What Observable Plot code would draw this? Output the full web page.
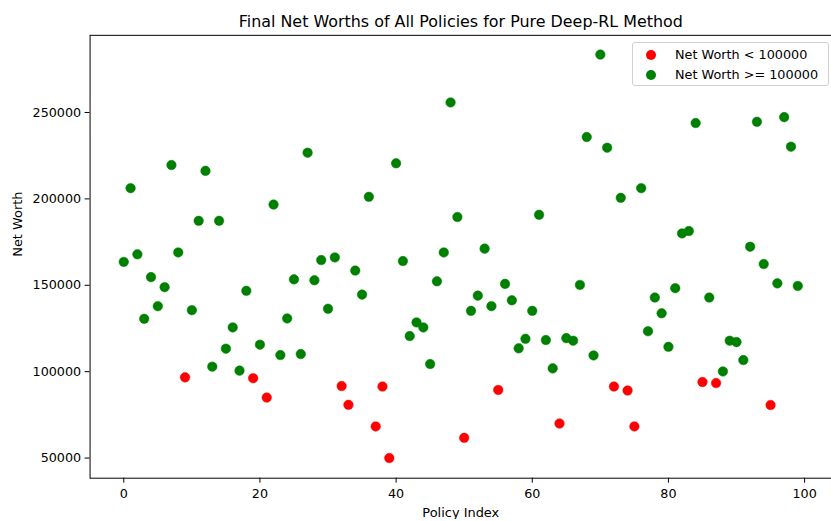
<!DOCTYPE html>
<html>
<head>
<meta charset="utf-8">
<script src="https://cdn.jsdelivr.net/npm/d3@7"></script>
<script src="https://cdn.jsdelivr.net/npm/@observablehq/plot@0.6"></script>
<style>
  html, body { margin: 0; padding: 0; background: white; overflow: hidden; }
  #wrap { position: relative; width: 831px; height: 521px; overflow: hidden; }
  #legend {
    position: absolute; left: 632px; top: 42px; width: 195px; height: 42px;
    border: 1px solid #d0d0d0; border-radius: 3px; background: rgba(255,255,255,0.8);
    font-family: "DejaVu Sans", sans-serif; font-size: 12.8px; color: #000;
  }
  .lrow { position: absolute; left: 0; height: 20px; line-height: 20px; white-space: nowrap; }
  .lmark { position: absolute; left: 13px; top: 5px; width: 10px; height: 10px; border-radius: 50%; }
  .ltext { position: absolute; left: 42px; top: 0; }
</style>
</head>
<body>
<div id="wrap"><div id="legend"></div></div>
<script>
// ---- data ----
const chartTitle = "Final Net Worths of All Policies for Pure Deep-RL Method";
const xLabel = "Policy Index";
const yLabel = "Net Worth";
const threshold = 100000;
const netWorth = [
  163500, 206200, 167900, 130600, 154700, 137900, 148900, 219600, 169000, 96700,
  135600, 187300, 216200, 102900, 187300, 113300, 125600, 100600, 146800, 96200,
  115600, 85000, 196700, 109600, 130800, 153400, 110200, 226700, 152900, 164600,
  136400, 166100, 91700, 80800, 158500, 144600, 201200, 68300, 91400, 50000,
  220600, 164000, 120600, 128500, 125600, 104400, 152300, 169000, 255800, 189500,
  61700, 135200, 144000, 171200, 137900, 89400, 150800, 141300, 113500, 119000,
  135200, 190800, 118300, 101900, 70000, 119400, 117900, 150200, 235800, 109400,
  283500, 229600, 91400, 200600, 89100, 68300, 206200, 123400, 142900, 133800,
  114400, 148300, 180000, 181400, 243900, 94000, 142900, 93400, 100100, 117900,
  117100, 106700, 172300, 244600, 162300, 80700, 151100, 247300, 230200, 149600
];
const xTicks = [0, 20, 40, 60, 80, 100];
const yTicks = [50000, 100000, 150000, 200000, 250000];
const legendLabels = ["Net Worth < 100000", "Net Worth >= 100000"];
const legendColors = ["#ff0000", "#008000"];

// ---- build table ----
const rows = netWorth.map((v, i) => ({index: i, worth: v}));
const low = rows.filter(d => d.worth < threshold);
const high = rows.filter(d => d.worth >= threshold);

const chart = Plot.plot({
  width: 835,
  height: 521,
  marginLeft: 90,
  marginRight: 0,
  marginTop: 35,
  marginBottom: 41,
  style: {fontFamily: "DejaVu Sans, sans-serif", fontSize: "12.8px", color: "#000", background: "white"},
  x: {domain: [-4.95, 103.95]},
  y: {domain: [38350, 294650]},
  marks: [
    Plot.axisX({ticks: xTicks, tickFormat: d => String(d), tickSize: 5, tickPadding: 6, label: null, stroke: "#000"}),
    Plot.axisY({ticks: yTicks, tickFormat: d => String(d), tickSize: 5, tickPadding: 4, label: null, stroke: "#000"}),
    Plot.dot(low, {x: "index", y: "worth", r: 4.8, fill: legendColors[0], stroke: legendColors[0], strokeWidth: 0.5}),
    Plot.dot(high, {x: "index", y: "worth", r: 4.8, fill: legendColors[1], stroke: legendColors[1], strokeWidth: 0.5}),
    Plot.frame({stroke: "#000", strokeWidth: 1}),
    Plot.text([chartTitle], {text: d => d, frameAnchor: "top", dy: -14, lineAnchor: "middle", fontSize: 16, fill: "#000"}),
    Plot.text([xLabel], {text: d => d, frameAnchor: "bottom", dy: 34.8, lineAnchor: "middle", fontSize: 13, fill: "#000"}),
    Plot.text([yLabel], {text: d => d, frameAnchor: "left", dx: -73, rotate: -90, lineAnchor: "middle", fontSize: 13, fill: "#000"})
  ]
});
const wrap = document.getElementById("wrap");
wrap.insertBefore(chart, wrap.firstChild);

const legend = document.getElementById("legend");
legendLabels.forEach((lab, i) => {
  const row = document.createElement("div");
  row.className = "lrow";
  row.style.top = (2 + i * 20) + "px";
  const m = document.createElement("span");
  m.className = "lmark";
  m.style.background = legendColors[i];
  const t = document.createElement("span");
  t.className = "ltext";
  t.textContent = lab;
  row.appendChild(m);
  row.appendChild(t);
  legend.appendChild(row);
});
</script>
</body>
</html>
